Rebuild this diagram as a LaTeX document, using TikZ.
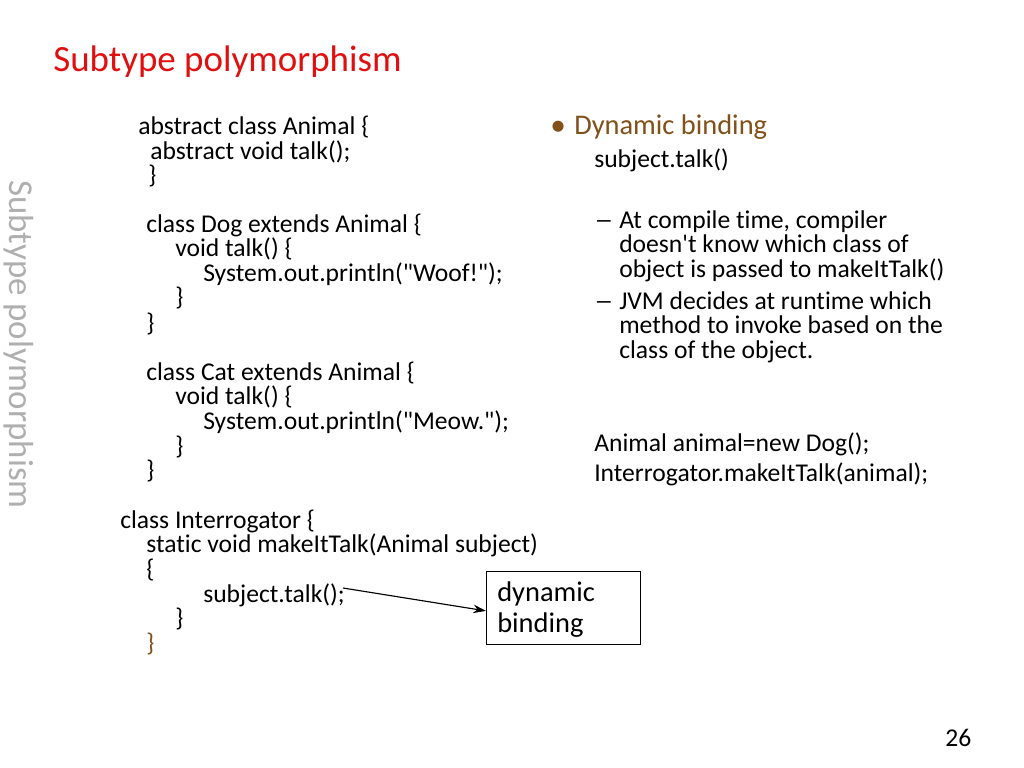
\documentclass[tikz,border=0pt]{standalone}
\usepackage{fontspec}
\setmainfont{Carlito}[Ligatures={TeXOff,NoCommon}]
\usetikzlibrary{arrows.meta}
\definecolor{titlered}{RGB}{224,16,16}
\definecolor{accbrown}{RGB}{130,80,25}
\definecolor{sidegray}{RGB}{175,175,175}
\tikzset{
  code/.style={anchor=base west, inner sep=0pt, font=\fontsize{18}{20}\selectfont},
  big/.style={anchor=base west, inner sep=0pt, font=\fontsize{20}{22}\selectfont},
}
\newcommand{\longdash}{\scalebox{1.5}[1]{–}}
\begin{document}
\begin{tikzpicture}[x=0.703125pt, y=-0.703125pt]
\useasboundingbox[fill=white] (0,0) rectangle (1024,768);
% title
\node[anchor=base west, inner sep=0pt, text=titlered, font=\fontsize{26}{28}\selectfont] (title) at (53,72) {Subtype polymorphism};
% side text
\node[anchor=base west, inner sep=0pt, text=sidegray, rotate=-90, font=\fontsize{24.5}{26}\selectfont] (side) at (9,180) {Subtype polymorphism};
% code
\node[code] (l1) at (138,135) {abstract class Animal \{};
\node[code] (l2) at (150,160) {abstract void talk();};
\node[code] (l3) at (148,184) {\}};
\node[code] (l4) at (146,233) {class Dog extends Animal \{};
\node[code] (l5) at (175,257) {void talk() \{};
\node[code] (l6) at (203,282) {System.out.println("Woof!");};
\node[code] (l7) at (175,306) {\}};
\node[code] (l8) at (146,331) {\}};
\node[code] (l9) at (146,380) {class Cat extends Animal \{};
\node[code] (l10) at (175,404) {void talk() \{};
\node[code] (l11) at (203,429) {System.out.println("Meow.");};
\node[code] (l12) at (175,454) {\}};
\node[code] (l13) at (146,478) {\}};
\node[code] (l14) at (120,528) {class Interrogator \{};
\node[code] (l15) at (146,552) {static void makeItTalk(Animal subject)};
\node[code] (l16) at (146,577) {\{};
\node[code] (sub) at (203,602) {subject.talk();};
\node[code] (l18) at (175,626) {\}};
\node[code, text=accbrown] (l19) at (146,651) {\}};
% right column
\node[big, text=accbrown, font=\fontsize{22}{24}\selectfont] (bul) at (550,136) {•};
\node[big, text=accbrown] (dyn) at (574,135) {Dynamic binding};
\node[code] (r1) at (594,168) {subject.talk()};
\node[code] (d1) at (594,229) {\longdash};
\node[code] (r2) at (619,229) {At compile time, compiler};
\node[code] (r3) at (619,253) {doesn't know which class of};
\node[code] (r4) at (619,278) {object is passed to makeItTalk()};
\node[code] (d2) at (594,309) {\longdash};
\node[code] (r5) at (619,309) {JVM decides at runtime which};
\node[code] (r6) at (619,334) {method to invoke based on the};
\node[code] (r7) at (619,358) {class of the object.};
\node[code] (r8) at (594,451) {Animal animal=new Dog();};
\node[code] (r9) at (594,481) {Interrogator.makeItTalk(animal);};
% box
\node[draw=black, line width=0.8pt, minimum width=154*0.703125pt, minimum height=73*0.703125pt, inner sep=0pt, anchor=north west] (box) at (486,571) {};
\node[big] (b1) at (497,601) {dynamic};
\node[big] (b2) at (497,632) {binding};
\coordinate (st) at (343,588);
\draw[line width=0.8pt, -{Stealth[length=9pt, width=6pt]}] (st) -- ([yshift=-2pt]box.west);
% page number
\node[code] (pg) at (945,746) {26};
\end{tikzpicture}
\end{document}
